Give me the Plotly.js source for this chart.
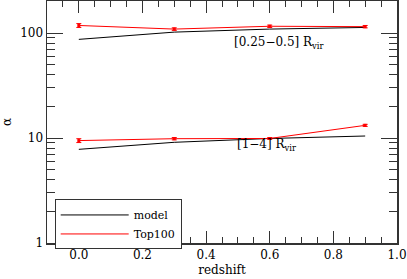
<!DOCTYPE html>
<html><head><meta charset="utf-8">
<script src="https://cdn.plot.ly/plotly-3.0.1.min.js"></script>
<style>html,body{margin:0;padding:0;background:#fff}#chart{width:407px;height:279px}</style>
</head><body><div id="chart"></div>
<script>
const redshift = [0.0, 0.3, 0.6, 0.9];
const modelInner = [87, 102, 109, 113];
const top100Inner = [118, 109, 116, 115];
const top100InnerErr = [5, 3, 3, 3];
const modelOuter = [7.8, 9.1, 9.9, 10.45];
const top100Outer = [9.45, 9.85, 9.9, 13.2];
const top100OuterErr = [0.4, 0.25, 0.2, 0.3];
const labels = ["[0.25\u22120.5] R<sub>vir</sub>", "[1\u22124] R<sub>vir</sub>"];
const labelPos = [[0.63, 1.905], [0.59, 0.935]];

const F = "DejaVu Serif, serif";
const traces = [
  {x: redshift, y: modelInner, mode: 'lines', line: {color: 'black', width: 1}, name: 'model', legendgroup: 'm'},
  {x: redshift, y: modelOuter, mode: 'lines', line: {color: 'black', width: 1}, name: 'model', legendgroup: 'm', showlegend: false},
  {x: redshift, y: top100Inner, mode: 'lines', line: {color: 'red', width: 1}, name: 'Top100', legendgroup: 't'},
  {x: redshift, y: top100Outer, mode: 'lines', line: {color: 'red', width: 1}, name: 'Top100', legendgroup: 't', showlegend: false},
  {x: redshift, y: top100Inner, mode: 'markers', marker: {color: 'red', size: 3, symbol: 'square'}, showlegend: false,
   error_y: {type: 'data', array: top100InnerErr, color: 'red', thickness: 1, width: 2.5}},
  {x: redshift, y: top100Outer, mode: 'markers', marker: {color: 'red', size: 3, symbol: 'square'}, showlegend: false,
   error_y: {type: 'data', array: top100OuterErr, color: 'red', thickness: 1, width: 2.5}}
];
const axisCommon = {showgrid: false, zeroline: false, showline: true, linecolor: '#333', linewidth: 1.5,
  mirror: 'allticks', ticks: 'inside', tickcolor: '#333', tickwidth: 1,
  tickfont: {family: F, size: 12, color: 'black'}};
const layout = {
  width: 407, height: 279,
  margin: {l: 47, r: 10, t: 1, b: 36},
  paper_bgcolor: 'white', plot_bgcolor: 'white',
  font: {family: F, size: 12, color: 'black'},
  xaxis: Object.assign({}, axisCommon, {range: [-0.1, 1.0], dtick: 0.2, tick0: 0, tickformat: '.1f', ticklen: 12,
    minor: {dtick: 0.05, ticklen: 6, ticks: 'inside', tickcolor: '#333'},
    title: {text: 'redshift', font: {family: F, size: 12}, standoff: 4}}),
  yaxis: Object.assign({}, axisCommon, {type: 'log', range: [0, 2.305], dtick: 1, ticklen: 16,
    minor: {dtick: 'D1', ticklen: 8, ticks: 'inside', tickcolor: '#333'},
    title: {text: '\u03b1', font: {family: F, size: 12}, standoff: 14}}),
  legend: {x: 0.022, y: 0.18, xanchor: 'left', yanchor: 'top', bordercolor: '#333', borderwidth: 1,
    bgcolor: 'white', font: {family: F, size: 11}, tracegroupgap: 0, itemwidth: 68},
  annotations: labels.map((t, i) => ({x: labelPos[i][0], y: labelPos[i][1], xref: 'x', yref: 'y', text: t,
    showarrow: false, font: {family: F, size: 12, color: 'black'}, bgcolor: 'rgba(0,0,0,0)'}))
};
Plotly.newPlot('chart', traces, layout, {displayModeBar: false, staticPlot: true});
</script></body></html>
